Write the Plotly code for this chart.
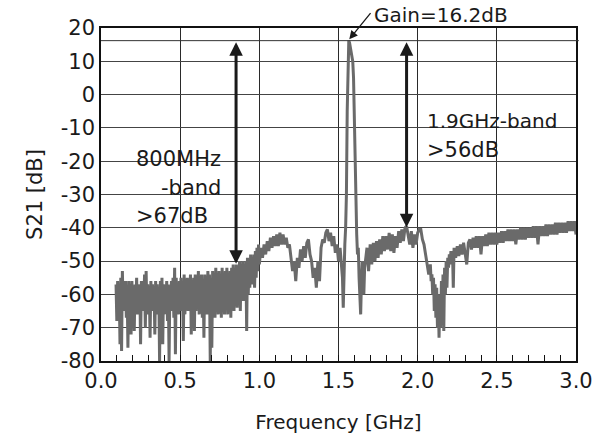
import plotly.graph_objects as go

# ---------------- data ----------------
# 0.095 - 0.950 GHz: noisy stop-band region
freq_a = [0.095,0.100,0.105,0.110,0.115,0.120,0.125,0.130,0.135,0.140,
          0.145,0.150,0.155,0.160,0.165,0.170,0.175,0.180,0.185,0.190,
          0.195,0.200,0.205,0.210,0.215,0.220,0.225,0.230,0.235,0.240,
          0.245,0.250,0.255,0.260,0.265,0.270,0.275,0.280,0.285,0.290,
          0.295,0.300,0.305,0.310,0.315,0.320,0.325,0.330,0.335,0.340,
          0.345,0.350,0.355,0.360,0.365,0.370,0.375,0.380,0.385,0.390,
          0.395,0.400,0.405,0.410,0.415,0.420,0.425,0.430,0.435,0.440,
          0.445,0.450,0.455,0.460,0.465,0.470,0.475,0.480,0.485,0.490,
          0.495,0.500,0.505,0.510,0.515,0.520,0.525,0.530,0.535,0.540,
          0.545,0.550,0.555,0.560,0.565,0.570,0.575,0.580,0.585,0.590,
          0.595,0.600,0.605,0.610,0.615,0.620,0.625,0.630,0.635,0.640,
          0.645,0.650,0.655,0.660,0.665,0.670,0.675,0.680,0.685,0.690,
          0.695,0.700,0.705,0.710,0.715,0.720,0.725,0.730,0.735,0.740,
          0.745,0.750,0.755,0.760,0.765,0.770,0.775,0.780,0.785,0.790,
          0.795,0.800,0.805,0.810,0.815,0.820,0.825,0.830,0.835,0.840,
          0.845,0.850,0.855,0.860,0.865,0.870,0.875,0.880,0.885,0.890,
          0.895,0.900,0.905,0.910,0.915,0.920,0.925,0.930,0.935,0.940,
          0.945,0.950]
s21_a = [-57,-68,-56,-66,-58,-75,-55,-77,-53,-65,
         -57,-64,-56,-67,-58,-76,-56,-65,-57,-72,
         -56,-66,-58,-71,-57,-64,-55,-66,-58,-63,
         -57,-75,-56,-65,-58,-64,-54,-70,-53,-66,
         -57,-63,-58,-73,-56,-65,-57,-64,-58,-72,
         -56,-66,-57,-65,-58,-80,-56,-67,-55,-75,
         -57,-66,-58,-64,-56,-68,-57,-80,-58,-65,
         -56,-64,-55,-67,-52,-78,-55,-65,-57,-66,
         -56,-63,-55,-65,-57,-74,-54,-66,-56,-64,
         -55,-65,-57,-63,-54,-72,-56,-64,-55,-71,
         -54,-65,-56,-63,-53,-66,-55,-64,-54,-67,
         -56,-73,-54,-64,-55,-66,-53,-65,-54,-80,
         -55,-76,-53,-64,-54,-67,-52,-65,-54,-66,
         -53,-64,-55,-67,-52,-63,-54,-66,-53,-62,
         -52,-66,-54,-63,-53,-67,-52,-62,-51,-65,
         -53,-62,-51,-64,-52,-61,-50,-65,-51,-60,
         -50,-62,-51,-59,-50,-71,-49,-60,-50,-58,
         -48,-57]

# 0.955 - 1.52 GHz
freq_b = [0.955,0.960,0.965,0.970,0.975,0.980,0.985,0.990,0.995,1.000,
          1.01,1.02,1.03,1.04,1.05,1.06,1.07,1.08,1.09,1.10,
          1.11,1.12,1.13,1.14,1.15,1.16,1.17,1.18,1.19,1.20,
          1.21,1.22,1.23,1.24,1.25,1.26,1.27,1.28,1.29,1.30,
          1.31,1.32,1.33,1.34,1.35,1.36,1.37,1.38,1.39,1.40,
          1.41,1.42,1.43,1.44,1.45,1.46,1.47,1.48,1.49,1.50,
          1.51,1.52]
s21_b = [-49,-57,-48,-58,-47,-55,-46,-53,-45,-51,
         -46,-49,-45,-48,-44,-47,-43,-46,-42.5,-45.5,
         -42,-45.5,-41.5,-45,-42,-45,-43,-46,-45,-49,
         -53,-50,-56,-49,-52,-46.5,-50,-45.5,-49,-44.5,
         -43.5,-48,-50,-55,-52,-58,-50,-56,-46,-43.5,
         -44.5,-41.5,-40.5,-44,-41.5,-45.5,-42.5,-47.5,-45,-50,
         -46,-52]

# 1.525 - 1.67 GHz: pass band peak
freq_c = [1.525,1.530,1.535,1.540,1.545,1.550,1.555,1.560,1.565,1.570,
          1.575,1.580,1.585,1.590,1.595,1.600,1.605,1.610,1.615,1.620,
          1.625,1.630,1.635,1.640,1.645,1.650,1.655,1.660,1.665,1.670]
s21_c = [-55,-64,-50,-45,-40,-30,-5,10,16.2,15.5,
         14,13,12,10,5,-10,-22,-33,-42,-48,
         -46,-55,-60,-66,-56,-50,-52,-60,-52,-50]

# 1.68 - 2.08 GHz
freq_d = [1.68,1.69,1.70,1.71,1.72,1.73,1.74,1.75,1.76,1.77,
          1.78,1.79,1.80,1.81,1.82,1.83,1.84,1.85,1.86,1.87,
          1.88,1.89,1.90,1.91,1.92,1.93,1.94,1.95,1.96,1.97,
          1.98,1.99,2.00,2.01,2.02,2.03,2.04,2.05,2.06,2.07,
          2.08]
s21_d = [-46,-53,-45,-51,-44.5,-50,-44,-49,-43.5,-48,
         -42.5,-47,-42.5,-46.5,-41.5,-47,-42,-47.5,-42.5,-46,
         -41,-44.5,-40.5,-44,-40,-39.5,-43,-45,-41,-46,
         -42,-45,-41.5,-40.5,-40.5,-43.5,-45,-48,-50,-54,
         -51]

# 2.085 - 2.225 GHz: upper notch
freq_e = [2.085,2.090,2.095,2.100,2.105,2.110,2.115,2.120,2.125,2.130,
          2.135,2.140,2.145,2.150,2.155,2.160,2.165,2.170,2.175,2.180,
          2.185,2.190,2.195,2.200,2.205,2.210,2.215,2.220,2.225]
s21_e = [-56,-54,-60,-55,-65,-57,-67,-58,-70,-60,
         -73,-62,-70,-56,-68,-54,-71,-52,-60,-50,
         -58,-49,-52,-48,-51,-47,-50,-47,-58]

# 2.23 - 3.00 GHz
freq_f = [2.23,2.24,2.25,2.26,2.27,2.28,2.29,2.30,2.31,2.32,
          2.33,2.34,2.35,2.36,2.37,2.38,2.39,2.40,2.41,2.42,
          2.43,2.44,2.45,2.46,2.47,2.48,2.49,2.50,2.51,2.52,
          2.53,2.54,2.55,2.56,2.57,2.58,2.59,2.60,2.61,2.62,
          2.63,2.64,2.65,2.66,2.67,2.68,2.69,2.70,2.71,2.72,
          2.73,2.74,2.75,2.76,2.77,2.78,2.79,2.80,2.81,2.82,
          2.83,2.84,2.85,2.86,2.87,2.88,2.89,2.90,2.91,2.92,
          2.93,2.94,2.95,2.96,2.97,2.98,2.99,3.00]
s21_f = [-46,-49,-45.5,-48.5,-45,-48,-44.5,-47.5,-51,-44.5,
         -43.5,-46.5,-43,-46,-42.5,-46,-42.5,-48,-42.5,-45.5,
         -42,-45.5,-41.5,-45,-41.5,-45,-41.5,-45,-41.5,-44.5,
         -41,-44.5,-41,-44,-40.5,-44,-40.5,-44,-40.5,-45,
         -40.5,-43.5,-40,-43.5,-40,-43.5,-40,-43,-40,-43,
         -39.5,-43,-39.5,-45,-39.5,-42.5,-39.5,-42.5,-39,-42.5,
         -39,-42,-39,-42,-38.5,-42,-38.5,-41.5,-38.5,-41.5,
         -38.5,-41.5,-38,-41,-38,-41,-38,-42]

GAIN_DB = 16.2
GAIN_FREQ = 1.565
REJ_800 = 67
REJ_1900 = 56
F_800_ARROW = 0.853
F_1900_ARROW = 1.93

x_ticks = [0.0, 0.5, 1.0, 1.5, 2.0, 2.5, 3.0]
y_ticks = [20, 10, 0, -10, -20, -30, -40, -50, -60, -70, -80]

freq = freq_a + freq_b + freq_c + freq_d + freq_e + freq_f
s21 = s21_a + s21_b + s21_c + s21_d + s21_e + s21_f

# ---------------- figure ----------------
FONT = "DejaVu Sans"
INK = "#1a1a1a"
fig = go.Figure()
fig.add_trace(go.Scatter(x=freq, y=s21, mode="lines",
                         line=dict(color="#6a6a6a", width=3),
                         showlegend=False, hoverinfo="skip"))

# gain reference line
fig.add_shape(type="line", xref="paper", yref="y", x0=0, x1=1.006,
              y0=GAIN_DB, y1=GAIN_DB, line=dict(color="#333333", width=1))

arrow_style = dict(showarrow=True, arrowhead=2, startarrowhead=2,
                   arrowside="end+start", arrowwidth=3, arrowsize=0.9,
                   startarrowsize=0.9, arrowcolor=INK, text="",
                   xref="x", yref="y", axref="x", ayref="y")
fig.add_annotation(x=F_800_ARROW, y=GAIN_DB - REJ_800,
                   ax=F_800_ARROW, ay=GAIN_DB, **arrow_style)
fig.add_annotation(x=F_1900_ARROW, y=GAIN_DB - REJ_1900,
                   ax=F_1900_ARROW, ay=GAIN_DB, **arrow_style)

# gain pointer
fig.add_annotation(x=GAIN_FREQ + 0.003, y=GAIN_DB + 0.4, ax=1.71, ay=24.9,
                   xref="x", yref="y", axref="x", ayref="y", text="",
                   showarrow=True, arrowhead=2, arrowwidth=1.3,
                   arrowsize=1.3, arrowcolor=INK)

fig.add_annotation(x=1.712, y=1.039, xref="x", yref="paper",
                   text="Gain=16.2dB", showarrow=False,
                   xanchor="left", yanchor="middle",
                   font=dict(family=FONT, size=20, color=INK))

texts = [
    ("800MHz", 0.208, -19.2, "left", 21),
    ("-band", 0.771, -28.0, "right", 21),
    (">67dB", 0.208, -36.4, "left", 21),
    ("1.9GHz-band", 2.047, -7.9, "left", 20),
    (">56dB", 2.047, -16.6, "left", 21),
]
for t, fx, fy, anc, sz in texts:
    fig.add_annotation(x=fx, y=fy, text=t, showarrow=False, xref="x", yref="y",
                       xanchor=anc, yanchor="middle",
                       font=dict(family=FONT, size=sz, color=INK))

fig.update_layout(
    width=603, height=434,
    margin=dict(l=101, r=27, t=28, b=73),
    paper_bgcolor="white", plot_bgcolor="white",
    font=dict(family=FONT, size=21, color=INK),
    xaxis=dict(range=[0, 3], tickvals=x_ticks, tickformat=".1f",
               automargin=False,
               showgrid=True, gridcolor="#2a2a2a", gridwidth=1,
               showline=True, linecolor="#111111", linewidth=2, mirror=True,
               ticks="inside", ticklen=6, tickcolor="#111111",
               minor=dict(dtick=0.1, ticks="inside", ticklen=6,
                          tickcolor="#111111", showgrid=False),
               zeroline=False,
               tickfont=dict(family=FONT, size=21),
               title=dict(text="Frequency [GHz]", standoff=24,
                          font=dict(family=FONT, size=20))),
    yaxis=dict(range=[-80, 20], tickvals=y_ticks,
               ticktext=[str(v) for v in y_ticks],
               automargin=False,
               showgrid=True, gridcolor="#444444", gridwidth=1,
               showline=True, linecolor="#111111", linewidth=1.5, mirror=True,
               ticks="", zeroline=False,
               tickfont=dict(family=FONT, size=21),
               title=dict(text="S21 [dB]", standoff=12,
                          font=dict(family=FONT, size=21))),
)

fig.write_html("out.html")
